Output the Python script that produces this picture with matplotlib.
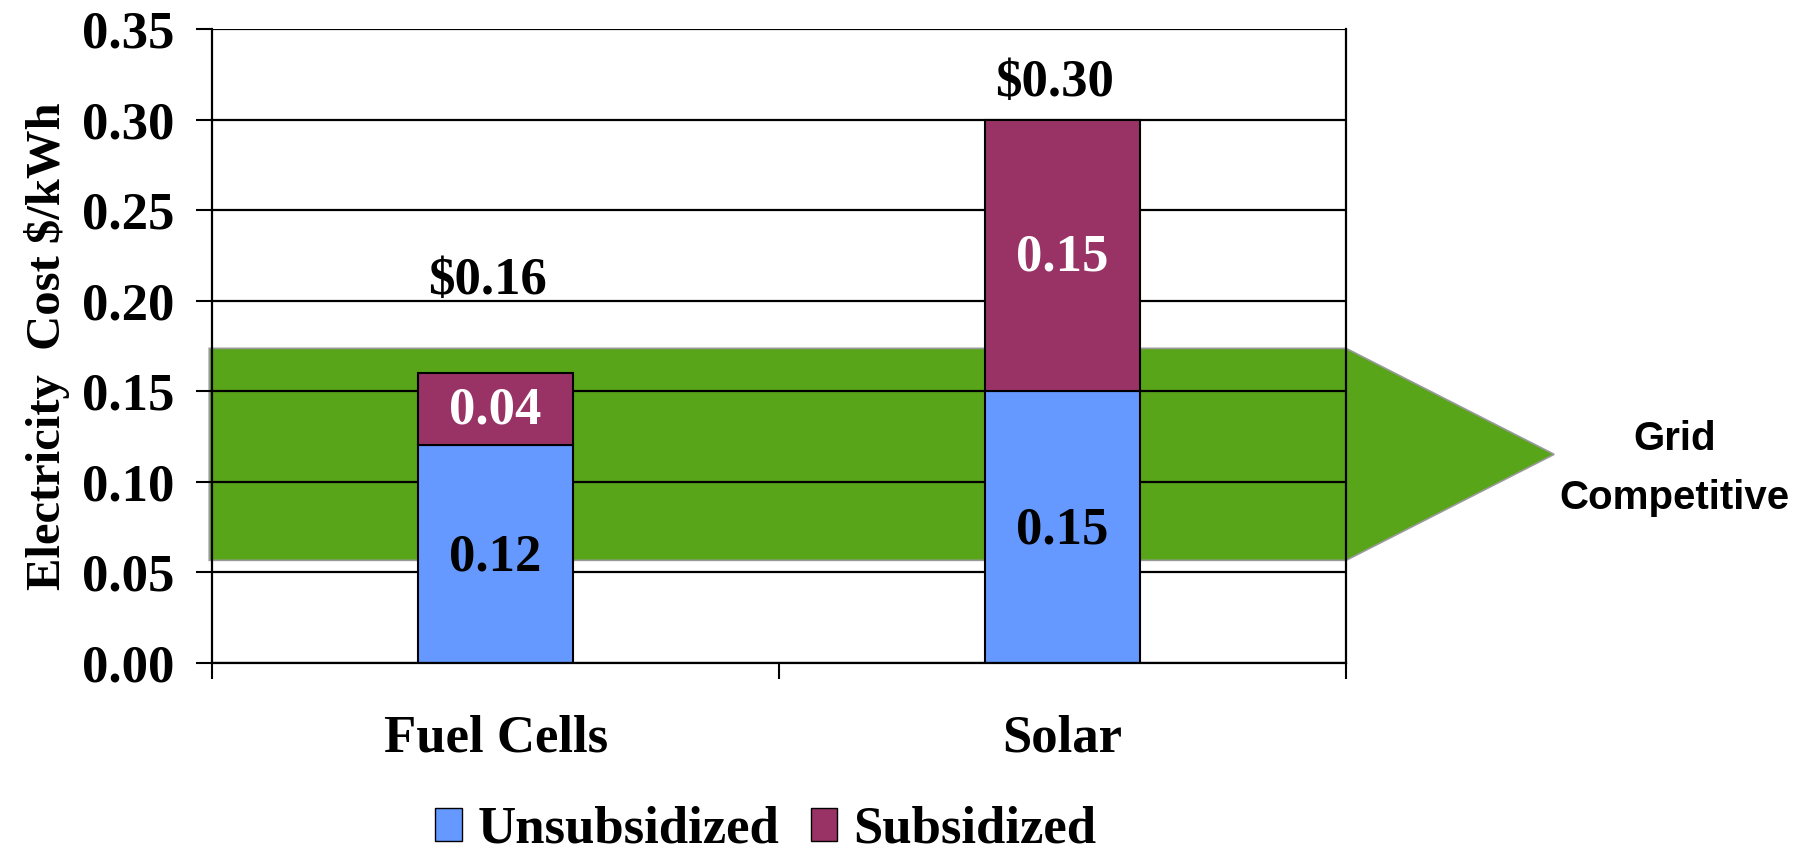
import matplotlib
matplotlib.use('Agg')
import matplotlib.pyplot as plt
from matplotlib.patches import Polygon, Patch
import numpy as np

plt.rcParams['font.family'] = ['Liberation Serif', 'DejaVu Serif']
plt.rcParams['font.weight'] = 'bold'
plt.rcParams['axes.labelweight'] = 'bold'

# data
categories = ['Fuel Cells', 'Solar']
unsubsidized = [0.12, 0.15]
subsidized = [0.04, 0.15]
totals = ['$0.16', '$0.30']
total_label_y = [0.211, 0.32]

# grid-competitive band (cost range)
band_low = 0.0565
band_high = 0.1736

c_blue = '#6699FF'
c_red = '#993366'
c_green = '#58A51A'
fs = 38

fig = plt.figure(figsize=(18.19, 8.6), dpi=100)
ax = fig.add_axes([0.1166, 0.2295, 0.6234, 0.7368])

x = np.arange(len(categories))
w = 0.272

# green arrow band
band = Polygon([(-0.505, band_low), (1.5, band_low), (1.867, (band_low + band_high) / 2),
                (1.5, band_high), (-0.505, band_high)],
               closed=True, facecolor=c_green, edgecolor='#999999', linewidth=1.2,
               zorder=0.2, clip_on=False)
ax.add_patch(band)

ax.bar(x, unsubsidized, w, color=c_blue, edgecolor='black', linewidth=1.5,
       label='Unsubsidized', zorder=2)
ax.bar(x, subsidized, w, bottom=unsubsidized, color=c_red, edgecolor='black',
       linewidth=1.5, label='Subsidized', zorder=2)

# labels in the segments
for i in range(len(categories)):
    ax.text(x[i], unsubsidized[i] / 2 - 0.002, '%.2f' % unsubsidized[i], ha='center',
            va='center', fontsize=fs, color='black', zorder=3)
    ax.text(x[i], unsubsidized[i] + subsidized[i] / 2 - 0.001, '%.2f' % subsidized[i],
            ha='center', va='center', fontsize=fs, color='white', zorder=3)
    ax.text(x[i] - 0.015, total_label_y[i], totals[i], ha='center', va='center',
            fontsize=fs, color='black', zorder=3)

ax.text(2.08, 0.107, 'Grid\nCompetitive', ha='center', va='center', fontsize=29,
        family=['Liberation Sans', 'DejaVu Sans'], fontweight='bold',
        linespacing=1.7, clip_on=False)

ax.set_xlim(-0.5, 1.5)
ax.set_ylim(0, 0.35)
ax.set_yticks(np.arange(0, 0.351, 0.05))
ax.set_yticklabels(['%.2f' % v for v in np.arange(0, 0.351, 0.05)], fontsize=fs)
ax.set_xticks([-0.5, 0.5, 1.5])
ax.set_xticklabels([])
ax.set_xticks(x, minor=True)
ax.set_xticklabels(categories, minor=True, fontsize=fs)
ax.tick_params(axis='x', which='minor', length=0, pad=37)
ax.tick_params(axis='x', which='major', length=11.5, width=1.5, direction='out')
ax.tick_params(axis='y', length=11.5, width=1.5, direction='out', pad=16)

ax.set_axisbelow(True)
ax.yaxis.grid(True, color='black', linewidth=1.6)
for s in ax.spines.values():
    s.set_linewidth(1.6)
    s.set_color('black')
ax.spines['top'].set_visible(False)

ax.set_ylabel('Electricity  Cost $/kWh', fontsize=35, fontweight='bold', labelpad=8)

handles = [Patch(facecolor=c_blue, edgecolor='black', label='Unsubsidized'),
           Patch(facecolor=c_red, edgecolor='black', label='Subsidized')]
fig.legend(handles=handles, loc='center', bbox_to_anchor=(0.421, 0.035), ncol=2,
           frameon=False, fontsize=fs, handlelength=0.5, handleheight=0.6,
           handletextpad=0.3, columnspacing=0.6)

plt.savefig('out.png', dpi=100)
plt.close()
